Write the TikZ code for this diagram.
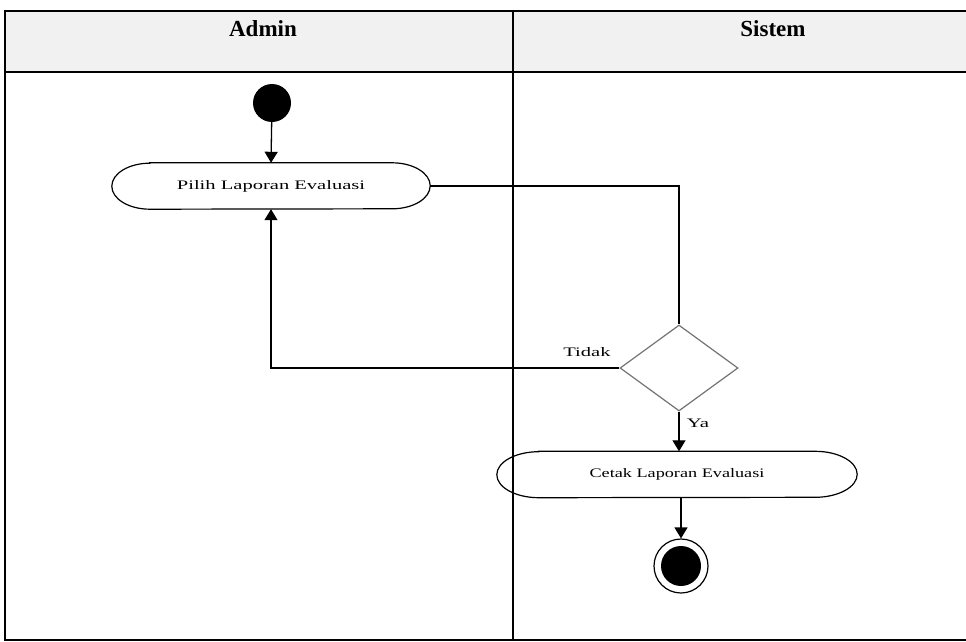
\documentclass[tikz,border=0pt]{standalone}
\usepackage{fontspec}
\setmainfont{Liberation Serif}
\usetikzlibrary{shapes.geometric,arrows.meta,calc}
\definecolor{hdr}{HTML}{F1F1F1}
\newcommand{\wtxt}[2][1.55]{\scalebox{#1}[1]{#2}}
\tikzset{
  lane/.style={line width=2pt,draw=black},
  flow/.style={line width=1.3pt,draw=black},
  arr/.style={flow,-{Triangle[width=13pt,length=11pt]}},
  lbl/.style={font=\fontsize{13}{15}\selectfont,inner sep=0pt},
  acttext/.style={font=\fontsize{13}{15}\selectfont,inner sep=0pt,minimum height=46pt},
  dec/.style={shape=diamond,draw=black!55,line width=1.2pt,fill=white,inner sep=0pt,minimum width=118pt,minimum height=86pt},
}
\begin{document}
\begin{tikzpicture}[x=1pt,y=-1pt]
\useasboundingbox (0,0) rectangle (966,642);
% swimlane table
\fill[hdr] (5,11) rectangle (1040,72);
\draw[lane] (1040,11) -- (5,11) -- (5,640) -- (1040,640);
\draw[lane] (5,72) -- (1040,72);
\draw[lane] (513,11) -- (513,640);
\node[font=\fontsize{23}{26}\selectfont\bfseries] (hA) at (263,29) {Admin};
\node[font=\fontsize{23}{26}\selectfont\bfseries] (hS) at (773,29) {Sistem};
% start
\node[circle,fill=black,minimum size=38pt,inner sep=0pt] (start) at (272,103) {};
% activity 1
\node[acttext,minimum width=318pt] (pilih) at (271,186) {\wtxt[1.58]{Pilih Laporan Evaluasi}};
\draw[line width=1.2pt] ($(pilih.north west)+(38pt,0pt)$) -- ($(pilih.north east)-(38pt,0pt)$)
  arc[start angle=90,end angle=-90,x radius=38pt,y radius=23pt]
  -- ($(pilih.south west)+(38pt,0pt)$)
  arc[start angle=270,end angle=90,x radius=38pt,y radius=23pt] -- cycle;
% decision
\node[dec] (dec) at (679,368) {};
% activity 2
\node[acttext,minimum width=360pt] (cetak) at (677,474.5) {\wtxt[1.4]{Cetak Laporan Evaluasi}};
\draw[line width=1.2pt] ($(cetak.north west)+(42pt,0pt)$) -- ($(cetak.north east)-(42pt,0pt)$)
  arc[start angle=90,end angle=-90,x radius=42pt,y radius=23pt]
  -- ($(cetak.south west)+(42pt,0pt)$)
  arc[start angle=270,end angle=90,x radius=42pt,y radius=23pt] -- cycle;
% final
\node[circle,draw=black,line width=1.2pt,fill=white,minimum size=54pt,inner sep=0pt] (final) at (681,566) {};
\fill[black] (final.center) circle[radius=20pt];
% connectors
\draw[arr] (start) -- (pilih.north);
\draw[flow] (pilih.east) -- (pilih.east -| dec.north) -- (dec.north);
\draw[arr] (dec.west) -- (dec.west -| pilih.south) -- (pilih.south);
\draw[arr] (dec.south) -- (dec.south |- cetak.north);
\draw[arr] (cetak.south -| final.north) -- (final.north);
% labels
\node[lbl] (ltidak) at (587,352) {\wtxt[1.58]{Tidak}};
\node[lbl] (lya) at (698,423) {\wtxt[1.6]{Ya}};
\end{tikzpicture}
\end{document}
